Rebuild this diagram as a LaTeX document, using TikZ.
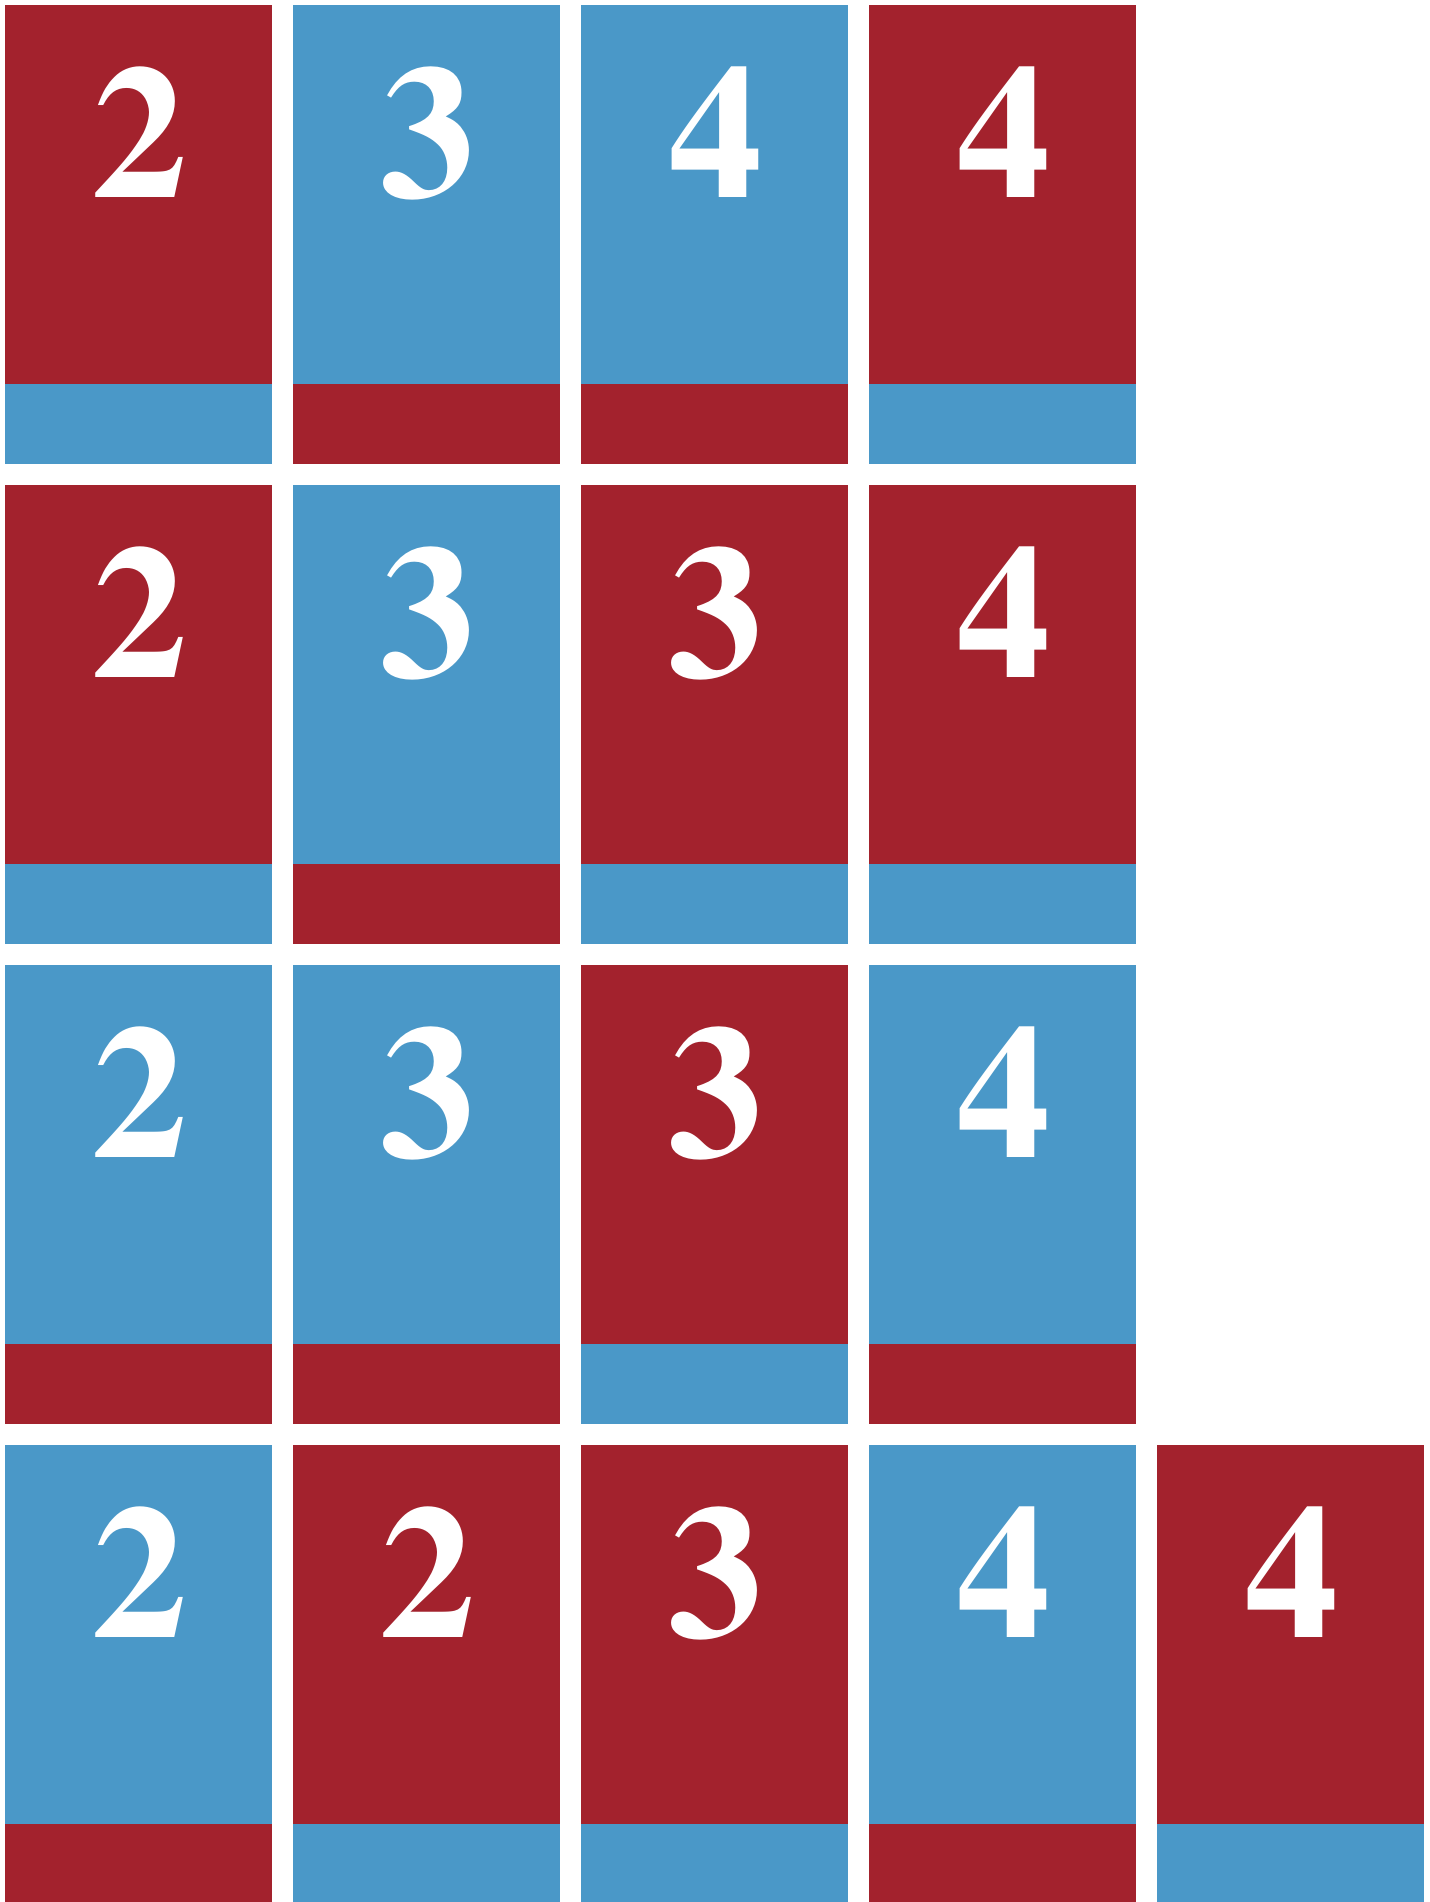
\documentclass[tikz,border=0pt]{standalone}
\usepackage[T1]{fontenc}
\usepackage{xcolor}
\definecolor{cellred}{HTML}{A3222D}
\definecolor{cellblue}{HTML}{4A98C8}

\begin{document}
\begin{tikzpicture}[x=0.5pt, y=-0.5pt]
    % Tile grid, sizes in pixels of the target picture
    \def\tilew{267}
    \def\tileh{379}
    \def\striph{80}
    \def\colstep{288}
    \def\rowstep{480}
    \tikzset{digit/.style={anchor=base, inner sep=0pt, text=white, font=\usefont{T1}{ptm}{b}{n}\fontsize{95}{100}\selectfont}}

    \useasboundingbox (0,0) rectangle (1430,1902);
    \clip (0,0) rectangle (1430,1902);

    % Tiles: row/column/top colour/strip colour/digit
    \foreach \r/\c/\tc/\bc/\lab in {
        0/0/cellred/cellblue/2, 0/1/cellblue/cellred/3, 0/2/cellblue/cellred/4, 0/3/cellred/cellblue/4,
        1/0/cellred/cellblue/2, 1/1/cellblue/cellred/3, 1/2/cellred/cellblue/3, 1/3/cellred/cellblue/4,
        2/0/cellblue/cellred/2, 2/1/cellblue/cellred/3, 2/2/cellred/cellblue/3, 2/3/cellblue/cellred/4,
        3/0/cellblue/cellred/2, 3/1/cellred/cellblue/2, 3/2/cellred/cellblue/3, 3/3/cellblue/cellred/4, 3/4/cellred/cellblue/4} {
        \pgfmathsetmacro{\xl}{5+\c*\colstep}
        \pgfmathsetmacro{\yt}{5+\r*\rowstep}
        \fill[\tc] (\xl,\yt) rectangle ++(\tilew,\tileh);
        \fill[\bc] (\xl,\yt+\tileh) rectangle ++(\tilew,\striph);
        \node[digit] (digit-\r-\c) at (\xl+134.5,\yt+192) {\lab};
    }
\end{tikzpicture}
\end{document}
